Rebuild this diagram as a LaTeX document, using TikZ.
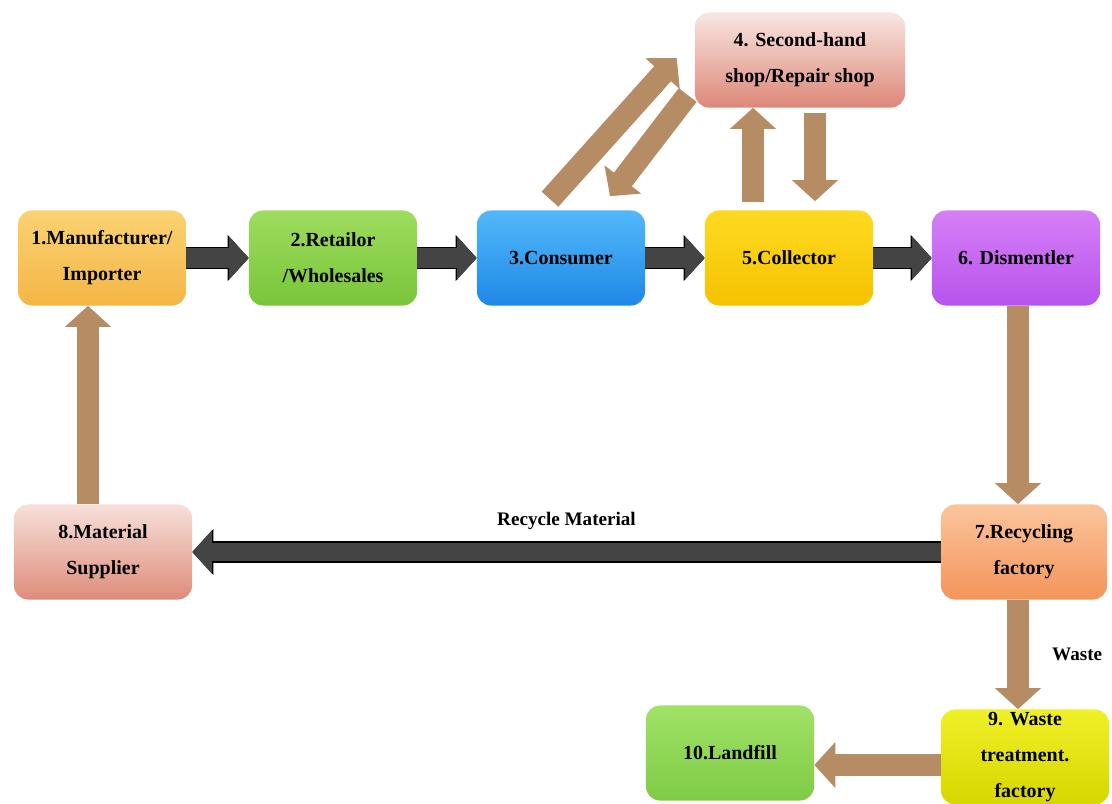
\documentclass[tikz,border=0pt]{standalone}
\usepackage{fontspec}
\setmainfont{Liberation Serif}
\usetikzlibrary{arrows.meta,calc}

\definecolor{oneT}{HTML}{FAD273}\definecolor{oneB}{HTML}{F4B646}
\definecolor{twoT}{HTML}{9EDC5E}\definecolor{twoB}{HTML}{79C53A}
\definecolor{thrT}{HTML}{52B8FA}\definecolor{thrB}{HTML}{1F88E6}
\definecolor{fouT}{HTML}{F8E6E2}\definecolor{fouB}{HTML}{DD8878}
\definecolor{fivT}{HTML}{FFDA22}\definecolor{fivB}{HTML}{F4C200}
\definecolor{sixT}{HTML}{D67FF8}\definecolor{sixB}{HTML}{B853EC}
\definecolor{sevT}{HTML}{FBC49C}\definecolor{sevB}{HTML}{F3955A}
\definecolor{eigT}{HTML}{F7E0DA}\definecolor{eigB}{HTML}{DE8C7A}
\definecolor{ninT}{HTML}{F0F028}\definecolor{ninB}{HTML}{D6D600}
\definecolor{tenT}{HTML}{A0E266}\definecolor{tenB}{HTML}{7FCB46}
\definecolor{arrowtan}{HTML}{B58C63}
\definecolor{arrowgray}{HTML}{444444}

\begin{document}
\begin{tikzpicture}[x=0.025cm,y=-0.025cm,
  box/.style={rounded corners=0.35cm,minimum width=4.2cm,minimum height=2.375cm,
    align=center,inner sep=1pt,font=\fontsize{14.2}{25.6}\selectfont\bfseries},
  dark/.style={line width=14pt,draw=arrowgray,-{Triangle[width=30pt,length=14pt]},
    preaction={draw=black,line width=15.5pt,-{Triangle[width=32pt,length=15pt]}}},
  ret/.style={line width=16pt,draw=arrowtan,-{Triangle[width=32pt,length=15pt]}},
  tag/.style={font=\fontsize{13.6}{15}\selectfont\bfseries}]
\useasboundingbox (0,0) rectangle (1112,803);
% stages
\node[box,top color=oneT,bottom color=oneB] (1)at(102,258){1.Manufacturer/\\Importer};
\node[box,top color=twoT,bottom color=twoB] (2)at(333,258){2.Retailor\\/Wholesales};
\node[box,top color=thrT,bottom color=thrB] (3)at(561,258){3.Consumer};
\node[box,top color=fouT,bottom color=fouB,minimum width=5.25cm] (4)at(800,60){4. Second-hand\\shop/Repair shop};
\node[box,top color=fivT,bottom color=fivB] (5)at(789,258){5.Collector};
\node[box,top color=sixT,bottom color=sixB] (6)at(1016,258){6. Dismentler};
\node[box,top color=sevT,bottom color=sevB,minimum width=4.15cm] (7)at(1024,552){7.Recycling\\factory};
\node[box,top color=eigT,bottom color=eigB,minimum width=4.45cm] (8)at(103,552){8.Material\\Supplier};
\node[box,top color=ninT,bottom color=ninB,font=\fontsize{14.2}{25.6}\selectfont\bfseries] (9)at(1025,757){9. Waste\\treatment.\\factory};
\node[box,top color=tenT,bottom color=tenB] (10)at(730,753){10.Landfill};
% forward flow
\draw[dark] (1) -- (2);
\draw[dark] (2) -- (3);
\draw[dark] (3) -- (5);
\draw[dark] (5) -- (6);
\draw[dark,line width=13pt] (7.west) -- (8.east)
  node[midway,above=6pt,tag]{Recycle Material};
% returns
\draw[ret] ($(3.north)+(-11,-11)$) -- ($(4.west)+(-18,-2)$);
\draw[ret] ($(4.west)+(-7,35)$) -- ($(3.north)+(49,-14)$);
\draw[ret] ($(5.north)+(-36,-8)$) -- ($(4.south)+(-47,0)$);
\draw[ret] ($(4.south)+(15,5)$) -- ($(5.north)+(26,-9)$);
\draw[ret] ($(6.south)+(2,0)$) -- ($(7.north)+(-6,0)$);
\draw[ret] ($(7.south)+(-6,0)$) -- ($(9.north)+(-7,0)$)
  node[midway,right=13pt,tag]{Waste};
\draw[ret] ($(9.west)+(0,8)$) -- ($(10.east)+(0,12)$);
\draw[ret] ($(8.north)+(-15,0)$) -- ($(1.south)+(-14,0)$);
\end{tikzpicture}
\end{document}
